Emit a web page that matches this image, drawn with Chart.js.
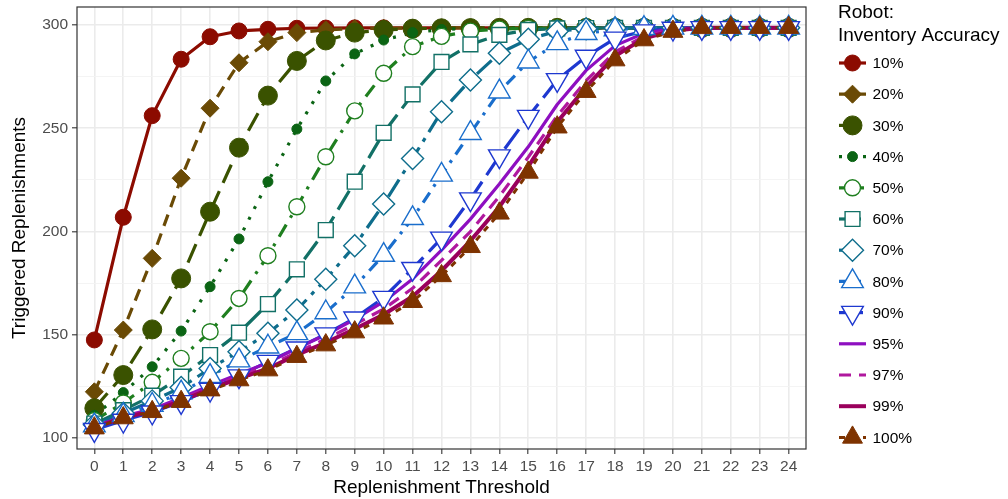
<!DOCTYPE html>
<html>
<head>
<meta charset="utf-8">
<script src="https://cdn.jsdelivr.net/npm/chart.js@4.4.0/dist/chart.umd.min.js"></script>
<style>
	html, body { margin: 0; padding: 0; background: #ffffff; }
	#wrap { width: 1008px; height: 499px; }
</style>
</head>
<body>
<div id="wrap"><canvas id="chart" width="1008" height="499"></canvas></div>
<script>
// x values (replenishment threshold)
var thresholds = [0, 1, 2, 3, 4, 5, 6, 7, 8, 9, 10, 11, 12, 13, 14, 15, 16, 17, 18, 19, 20, 21, 22, 23, 24];

// y axis grid / labels
var yGridValues = [100, 125, 150, 175, 200, 225, 250, 275, 300];
var yTickLabels = [100, 150, 200, 250, 300];

// triggered replenishments, one list per inventory accuracy
var acc10 = [147.5, 206.9, 256.1, 283.4, 294.3, 297.1, 297.9, 298.4, 298.5, 298.6, 298.6, 298.6, 298.6, 298.6, 298.6, 298.6, 298.6, 298.6, 298.6, 298.6, 298.6, 298.6, 298.6, 298.6, 298.6];
var acc20 = [122.4, 152.3, 187.0, 225.8, 259.7, 281.7, 291.9, 296.3, 297.6, 298.2, 298.4, 298.5, 298.6, 298.6, 298.6, 298.6, 298.6, 298.6, 298.6, 298.6, 298.6, 298.6, 298.6, 298.6, 298.6];
var acc30 = [114.4, 130.5, 152.6, 177.3, 209.6, 240.6, 265.8, 282.6, 292.5, 296.3, 297.6, 298.2, 298.4, 298.5, 298.6, 298.6, 298.6, 298.6, 298.6, 298.6, 298.6, 298.6, 298.6, 298.6, 298.6];
var acc40 = [111.0, 122.0, 134.5, 151.8, 173.3, 196.4, 224.1, 249.6, 272.9, 286.0, 292.7, 296.3, 297.8, 298.3, 298.5, 298.6, 298.6, 298.6, 298.6, 298.6, 298.6, 298.6, 298.6, 298.6, 298.6];
var acc50 = [108.5, 117.0, 127.0, 138.6, 151.5, 167.6, 188.3, 212.0, 236.2, 258.4, 276.6, 289.5, 294.5, 297.0, 298.0, 298.4, 298.6, 298.6, 298.6, 298.6, 298.6, 298.6, 298.6, 298.6, 298.6];
var acc60 = [107.0, 113.5, 120.5, 129.7, 140.2, 151.0, 164.9, 181.7, 200.7, 224.1, 247.8, 266.4, 282.1, 290.6, 295.2, 297.6, 298.3, 298.5, 298.6, 298.6, 298.6, 298.6, 298.6, 298.6, 298.6];
var acc70 = [106.5, 112.0, 118.0, 124.5, 133.7, 141.8, 150.7, 162.0, 176.9, 193.1, 213.3, 235.4, 258.0, 273.4, 286.3, 293.1, 297.0, 298.2, 298.5, 298.6, 298.6, 298.6, 298.6, 298.6, 298.6];
var acc80 = [106.0, 111.0, 116.0, 122.0, 130.0, 137.5, 144.2, 150.7, 160.8, 173.3, 188.6, 206.4, 227.4, 247.6, 267.7, 282.2, 291.1, 296.0, 297.8, 298.4, 298.6, 298.6, 298.6, 298.6, 298.6];
var acc90 = [104.0, 108.5, 112.5, 117.5, 123.5, 130.0, 137.0, 143.5, 150.3, 158.0, 168.0, 182.0, 196.7, 215.7, 236.5, 255.6, 273.4, 284.7, 293.5, 297.0, 298.3, 298.6, 298.6, 298.6, 298.6];
var acc95 = [105.5, 110.5, 114.0, 119.5, 125.5, 131.0, 136.5, 143.5, 150.0, 157.5, 166.0, 177.0, 191.0, 206.0, 223.0, 241.0, 261.5, 278.0, 290.0, 296.0, 298.2, 298.6, 298.6, 298.6, 298.6];
var acc97 = [105.2, 110.2, 113.5, 118.8, 124.5, 130.0, 135.0, 141.5, 148.0, 155.0, 162.5, 172.5, 186.0, 200.0, 217.0, 236.0, 256.0, 273.0, 287.0, 294.5, 297.8, 298.6, 298.6, 298.6, 298.6];
var acc99 = [105.0, 109.9, 113.0, 118.0, 123.8, 128.8, 133.7, 140.3, 146.2, 152.8, 159.8, 168.5, 181.0, 195.5, 212.0, 231.5, 253.0, 270.0, 285.0, 293.5, 297.2, 298.6, 298.6, 298.6, 298.6];
var acc100 = [104.8, 109.7, 112.7, 117.6, 123.2, 128.1, 132.9, 139.4, 145.0, 151.3, 158.0, 166.0, 178.5, 192.6, 208.8, 228.6, 250.5, 267.7, 283.0, 292.7, 296.8, 298.6, 298.7, 298.7, 298.7];

var seriesNames = ['10%', '20%', '30%', '40%', '50%', '60%', '70%', '80%', '90%', '95%', '97%', '99%', '100%'];
var seriesValues = [acc10, acc20, acc30, acc40, acc50, acc60, acc70, acc80, acc90, acc95, acc97, acc99, acc100];

// styles
var colors = ['#8C0B00', '#6A4A05', '#3A5200', '#0B6414', '#1F7F1F', '#127066', '#0E6D8C', '#1A6ECC', '#1E38D0', '#8E0FC0', '#B0189E', '#9A005C', '#7E3300'];
var dashes = [[], [12, 8], [20, 9], [3, 9], [14, 8, 3, 8], [22, 8], [20, 7, 4, 7], [12, 7, 3, 7], [24, 8], [], [12, 8], [], [6, 6]];
var lineWidths = [3.2, 3.2, 3.2, 3.2, 3.2, 3.2, 3.2, 3.2, 3.2, 3.2, 3.2, 4, 3];
var markers = [
	{ style: 'circle', r: 8, filled: true },
	{ style: 'rectRot', r: 9, filled: true },
	{ style: 'circle', r: 9.5, filled: true },
	{ style: 'circle', r: 5, filled: true },
	{ style: 'circle', r: 8, filled: false },
	{ style: 'rect', r: 10.5, filled: false },
	{ style: 'rectRot', r: 11, filled: false },
	{ style: 'triangle', r: 12.5, filled: false },
	{ style: 'triangle', r: 12.5, filled: false, rot: 180 },
	null,
	null,
	null,
	{ style: 'triangle', r: 11.5, filled: true }
];

var fontFamily = '"Liberation Sans", Arial, Helvetica, sans-serif';

function toPoints(values) {
	return thresholds.map(function (t, i) { return { x: t, y: values[i] }; });
}

var datasets = [];
// lines first (underneath), then markers, like geom_line + geom_point
seriesValues.forEach(function (vals, i) {
	datasets.push({
		label: seriesNames[i] + ' line',
		data: toPoints(vals),
		borderColor: colors[i],
		borderWidth: lineWidths[i],
		borderDash: dashes[i],
		borderCapStyle: 'butt',
		borderJoinStyle: 'round',
		pointRadius: 0,
		fill: false,
		tension: 0,
		order: 100 - i
	});
});
seriesValues.forEach(function (vals, i) {
	var m = markers[i];
	if (!m) return;
	datasets.push({
		label: seriesNames[i],
		data: toPoints(vals),
		showLine: false,
		pointStyle: m.style,
		pointRadius: m.r,
		pointRotation: m.rot || 0,
		pointBackgroundColor: m.filled ? colors[i] : '#ffffff',
		pointBorderColor: colors[i],
		pointBorderWidth: m.filled ? 1 : 1.4,
		order: 50 - i
	});
});

// panel border drawn over the data
var panelBorder = {
	id: 'panelBorder',
	afterDatasetsDraw: function (chart) {
		var a = chart.chartArea, ctx = chart.ctx;
		ctx.save();
		ctx.strokeStyle = '#333333';
		ctx.lineWidth = 1.2;
		ctx.setLineDash([]);
		ctx.strokeRect(a.left, a.top, a.right - a.left, a.bottom - a.top);
		ctx.restore();
	}
};

// ggplot style legend with line + marker keys
var ggLegend = {
	id: 'ggLegend',
	afterDraw: function (chart) {
		var ctx = chart.ctx;
		ctx.save();
		ctx.fillStyle = '#000000';
		ctx.font = '19px ' + fontFamily;
		ctx.textAlign = 'left';
		ctx.textBaseline = 'middle';
		ctx.fillText('Robot:', 838, 13);
		ctx.fillText('Inventory Accuracy', 838, 36);
		for (var i = 0; i < seriesNames.length; i++) {
			var y = 63 + i * 31.2;
			ctx.strokeStyle = colors[i];
			ctx.lineWidth = lineWidths[i];
			ctx.lineCap = 'butt';
			ctx.setLineDash(dashes[i]);
			ctx.beginPath();
			ctx.moveTo(839, y);
			ctx.lineTo(866, y);
			ctx.stroke();
			ctx.setLineDash([]);
			var m = markers[i];
			if (m && Chart.helpers && Chart.helpers.drawPoint) {
				ctx.fillStyle = m.filled ? colors[i] : '#ffffff';
				ctx.strokeStyle = colors[i];
				ctx.lineWidth = m.filled ? 1 : 1.4;
				Chart.helpers.drawPoint(ctx, {
					pointStyle: m.style,
					radius: m.r,
					rotation: m.rot || 0,
					borderWidth: m.filled ? 1 : 1.4
				}, 852.5, y);
			}
			ctx.fillStyle = '#000000';
			ctx.font = '15.5px ' + fontFamily;
			ctx.fillText(seriesNames[i], 872.5, y + 1);
		}
		ctx.restore();
	}
};

var ctx = document.getElementById('chart').getContext('2d');
var chart = new Chart(ctx, {
	type: 'line',
	data: { datasets: datasets },
	plugins: [panelBorder, ggLegend],
	options: {
		responsive: false,
		animation: false,
		devicePixelRatio: 1,
		layout: { autoPadding: false, padding: { left: 0, right: 202, top: 7, bottom: 0 } },
		plugins: {
			legend: { display: false },
			tooltip: { enabled: false }
		},
		scales: {
			x: {
				type: 'linear',
				min: -0.6,
				max: 24.6,
				afterBuildTicks: function (scale) {
					scale.ticks = thresholds.map(function (t) { return { value: t }; });
				},
				afterFit: function (scale) {
					scale.height = 50;
					scale.paddingLeft = 0;
					scale.paddingRight = 0;
				},
				border: { display: false },
				grid: {
					color: '#EBEBEB',
					lineWidth: 1.6,
					tickColor: '#333333',
					tickWidth: 1.1,
					tickLength: 5
				},
				ticks: {
					autoSkip: false,
					maxRotation: 0,
					padding: 3,
					color: '#4D4D4D',
					font: { family: fontFamily, size: 15.5 },
					callback: function (v) { return String(v); }
				},
				title: {
					display: true,
					text: 'Replenishment Threshold',
					color: '#000000',
					font: { family: fontFamily, size: 19 },
					padding: { top: 0, bottom: 0 }
				}
			},
			y: {
				type: 'linear',
				min: 94.7,
				max: 308.7,
				afterBuildTicks: function (scale) {
					scale.ticks = yGridValues.map(function (v) { return { value: v }; });
				},
				afterFit: function (scale) {
					scale.width = 77;
					scale.paddingTop = 0;
					scale.paddingBottom = 0;
				},
				border: { display: false },
				grid: {
					color: function (c) {
						return yTickLabels.indexOf(c.tick && c.tick.value) >= 0 ? '#EBEBEB' : '#F3F3F3';
					},
					lineWidth: function (c) {
						return yTickLabels.indexOf(c.tick && c.tick.value) >= 0 ? 1.6 : 0.9;
					},
					tickColor: function (c) {
						return yTickLabels.indexOf(c.tick && c.tick.value) >= 0 ? '#333333' : 'rgba(0,0,0,0)';
					},
					tickWidth: 1.1,
					tickLength: 5
				},
				ticks: {
					autoSkip: false,
					padding: 4,
					color: '#4D4D4D',
					font: { family: fontFamily, size: 15.5 },
					callback: function (v) { return yTickLabels.indexOf(v) >= 0 ? String(v) : ''; }
				},
				title: {
					display: true,
					text: 'Triggered Replenishments',
					color: '#000000',
					font: { family: fontFamily, size: 19 },
					padding: { top: 8, bottom: 0 }
				}
			}
		}
	}
});
</script>
</body>
</html>
